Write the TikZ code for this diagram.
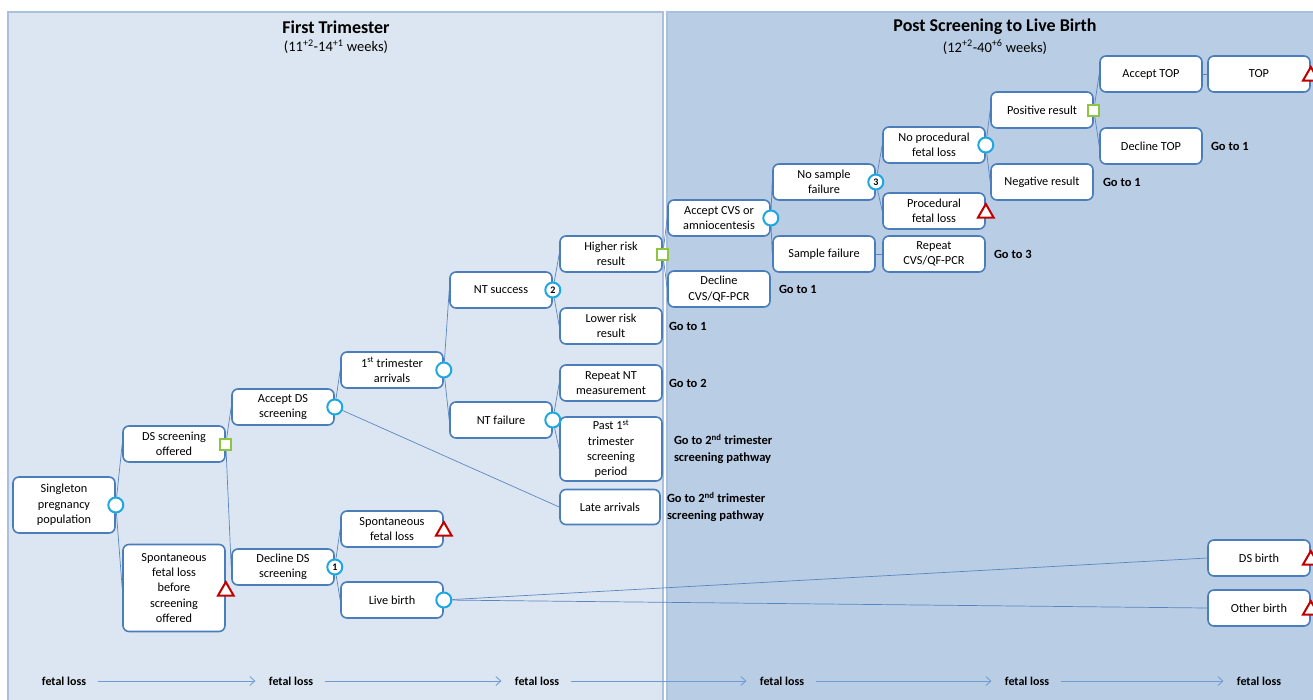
\documentclass[tikz,border=0pt]{standalone}
\usepackage{fontspec}
\setmainfont{Carlito}
\usetikzlibrary{positioning,shapes.geometric,arrows.meta,backgrounds}
\definecolor{leftpanel}{HTML}{DCE6F2}
\definecolor{rightpanel}{HTML}{B9CDE5}
\definecolor{panelline}{HTML}{A9C0DE}
\definecolor{boxblue}{HTML}{4A7EBB}
\definecolor{chancecol}{HTML}{1FA8E0}
\definecolor{choicecol}{HTML}{8CC63F}
\definecolor{termcol}{HTML}{C00000}
\definecolor{linkcol}{HTML}{5A86C0}
\definecolor{arrowcol}{HTML}{6E9BD3}
\tikzset{
	box/.style={draw=boxblue, line width=1.6pt, fill=white, rounded corners=6pt, minimum width=102pt, minimum height=36pt, inner sep=2pt, align=center, font=\fontsize{12.3}{15.3}\selectfont},
	chance/.style={circle, draw=chancecol, line width=2pt, fill=white, minimum size=15pt, inner sep=0pt, font=\bfseries\fontsize{10}{10}\selectfont},
	choice/.style={rectangle, draw=choicecol, line width=2pt, fill=white, minimum size=11pt, inner sep=0pt},
	term/.style={regular polygon, regular polygon sides=3, draw=termcol, line width=2pt, fill=white, minimum size=18pt, inner sep=0pt},
	branch/.style={draw=linkcol, line width=0.7pt},
	goto/.style={font=\bfseries\fontsize{12.5}{16.5}\selectfont, align=left, inner sep=0pt},
	lossfont/.style={font=\bfseries\fontsize{12}{14}\selectfont},
	flow/.style={draw=arrowcol, line width=0.8pt, -{Straight Barb[length=5pt,width=9pt]}, shorten <=8pt, shorten >=10pt}
}
\begin{document}
\begin{tikzpicture}[x=1pt,y=-1pt]
	\useasboundingbox (0,0) rectangle (1313,699);
	\begin{scope}[on background layer]
		\fill[white] (0,0) rectangle (1313,699);
		\draw[panelline, fill=leftpanel, line width=1.5pt] (8,12) rectangle (663,710);
		\draw[panelline, fill=rightpanel, line width=1.5pt] (667,12) rectangle (1325,710);
	\end{scope}

	\node[font=\bfseries\fontsize{18}{21}\selectfont] (title1) at (336,27) {First Trimester};
	\node[font=\fontsize{14.5}{17}\selectfont] (sub1) at (336,47) {(11\textsuperscript{+2}-14\textsuperscript{+1} weeks)};
	\node[font=\bfseries\fontsize{18}{21}\selectfont] (title2) at (995,27) {Post Screening to Live Birth};
	\node[font=\fontsize{14.5}{17}\selectfont] (sub2) at (995,47) {(12\textsuperscript{+2}-40\textsuperscript{+6} weeks)};

	\node[box, minimum height=56pt] (single) at (64,505) {Singleton\\pregnancy\\population};
	\node[box] (offered) at (174,444) {DS screening\\offered};
	\node[box, minimum height=87pt] (sfbefore) at (174,588) {Spontaneous\\fetal loss\\before\\screening\\offered};
	\node[box] (acceptds) at (283,407) {Accept DS\\screening};
	\node[box] (declineds) at (283,567) {Decline DS\\screening};
	\node[box] (sfl) at (392,529) {Spontaneous\\fetal loss};
	\node[box] (live) at (392,600) {Live birth};
	\node[box] (arrivals) at (392,370) {1\textsuperscript{st} trimester\\arrivals};
	\node[box] (ntsucc) at (501,290) {NT success};
	\node[box] (ntfail) at (501,420) {NT failure};
	\node[box] (higher) at (611,254) {Higher risk\\result};
	\node[box] (lower) at (611,326) {Lower risk\\result};
	\node[box] (repeatnt) at (611,383) {Repeat NT\\measurement};
	\node[box, minimum height=64pt] (past) at (611,449) {Past 1\textsuperscript{st}\\trimester\\screening\\period};
	\node[box, minimum width=100pt, minimum height=35pt] (late) at (610,507) {Late arrivals};
	\node[box] (acceptcvs) at (719,218) {Accept CVS or\\amniocentesis};
	\node[box] (declinecvs) at (719,289) {Decline\\CVS/QF-PCR};
	\node[box] (nosf) at (824,182) {No sample\\failure};
	\node[box] (sf) at (824,254) {Sample failure};
	\node[box] (noproc) at (934,145) {No procedural\\fetal loss};
	\node[box] (proc) at (934,211) {Procedural\\fetal loss};
	\node[box] (repeatcvs) at (934,254) {Repeat\\CVS/QF-PCR};
	\node[box] (pos) at (1042,110) {Positive result};
	\node[box] (neg) at (1042,182) {Negative result};
	\node[box] (accepttop) at (1151,74) {Accept TOP};
	\node[box] (declinetop) at (1151,146) {Decline TOP};
	\node[box] (top) at (1259,74) {TOP};
	\node[box] (dsbirth) at (1259,558) {DS birth};
	\node[box] (otherbirth) at (1259,608) {Other birth};

	\node[chance] (m-single) at (single.east) {};
	\node[choice] (m-offered) at (offered.east) {};
	\node[term] (m-sfbefore) at ([yshift=-3pt]sfbefore.east) {};
	\node[chance] (m-acceptds) at (acceptds.east) {};
	\node[chance] (m-declineds) at (declineds.east) {1};
	\node[term] (m-sfl) at ([yshift=-2pt]sfl.east) {};
	\node[chance] (m-live) at (live.east) {};
	\node[chance] (m-arrivals) at (arrivals.east) {};
	\node[chance] (m-ntsucc) at (ntsucc.east) {2};
	\node[chance] (m-ntfail) at (ntfail.east) {};
	\node[choice] (m-higher) at (higher.east) {};
	\node[chance] (m-acceptcvs) at (acceptcvs.east) {};
	\node[chance] (m-nosf) at (nosf.east) {3};
	\node[chance] (m-noproc) at (noproc.east) {};
	\node[term] (m-proc) at ([yshift=-2pt]proc.east) {};
	\node[choice] (m-pos) at (pos.east) {};
	\node[term] (m-top) at ([yshift=-2pt]top.east) {};
	\node[term] (m-dsbirth) at ([yshift=-2pt]dsbirth.east) {};
	\node[term] (m-otherbirth) at ([yshift=-2pt]otherbirth.east) {};

	\node[goto, right=8pt of declinetop] (g-declinetop) {Go to 1};
	\node[goto, right=9pt of neg] (g-neg) {Go to 1};
	\node[goto, right=8pt of repeatcvs] (g-repeatcvs) {Go to 3};
	\node[goto, right=8pt of declinecvs] (g-declinecvs) {Go to 1};
	\node[goto, right=6pt of lower] (g-lower) {Go to 1};
	\node[goto, right=6pt of repeatnt] (g-repeatnt) {Go to 2};
	\node[goto, right=11pt of past] (g-past) {Go to 2\textsuperscript{nd} trimester\\screening pathway};
	\node[goto, right=6pt of late] (g-late) {Go to 2\textsuperscript{nd} trimester\\screening pathway};

	\begin{scope}[on background layer]
		\draw[branch] (m-single) -- (offered.west);
		\draw[branch] (m-single) -- (sfbefore.west);
		\draw[branch] (m-offered) -- (acceptds.west);
		\draw[branch] (m-offered) -- (declineds.west);
		\draw[branch] (m-acceptds) -- (arrivals.west);
		\draw[branch] (m-acceptds) -- (late.west);
		\draw[branch] (m-declineds) -- (sfl.west);
		\draw[branch] (m-declineds) -- (live.west);
		\draw[branch] (m-live) -- (dsbirth.west);
		\draw[branch] (m-live) -- (otherbirth.west);
		\draw[branch] (m-arrivals) -- (ntsucc.west);
		\draw[branch] (m-arrivals) -- (ntfail.west);
		\draw[branch] (m-ntsucc) -- (higher.west);
		\draw[branch] (m-ntsucc) -- (lower.west);
		\draw[branch] (m-ntfail) -- (repeatnt.west);
		\draw[branch] (m-ntfail) -- (past.west);
		\draw[branch] (m-higher) -- (acceptcvs.west);
		\draw[branch] (m-higher) -- (declinecvs.west);
		\draw[branch] (m-acceptcvs) -- (nosf.west);
		\draw[branch] (m-acceptcvs) -- (sf.west);
		\draw[branch] (m-nosf) -- (noproc.west);
		\draw[branch] (m-nosf) -- (proc.west);
		\draw[branch] (m-noproc) -- (pos.west);
		\draw[branch] (m-noproc) -- (neg.west);
		\draw[branch] (m-pos) -- (accepttop.west);
		\draw[branch] (m-pos) -- (declinetop.west);
		\draw[branch] (sf) -- (repeatcvs);
		\draw[branch] (accepttop) -- (top);
	\end{scope}

	\foreach \x [count=\i] in {64,291,537,782,1027,1259}
		\node[lossfont] (loss\i) at (\x,681) {fetal loss};
	\foreach \i/\j in {1/2,2/3,3/4,4/5,5/6}
		\draw[flow] (loss\i) -- (loss\j);
\end{tikzpicture}
\end{document}
